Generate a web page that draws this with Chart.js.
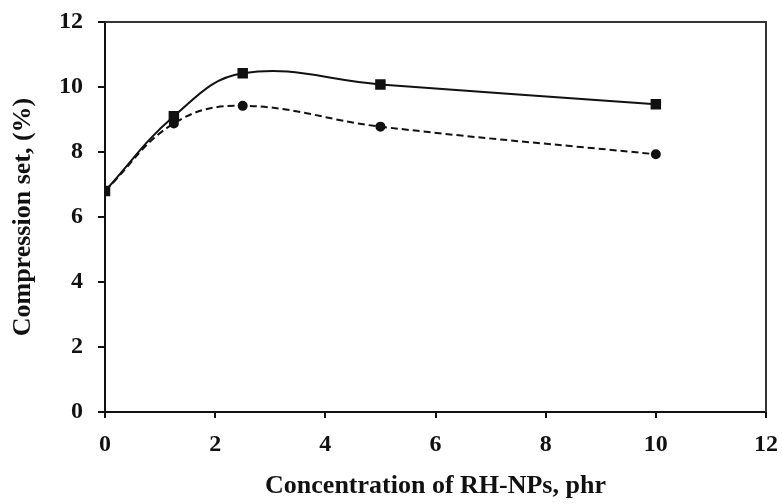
<!DOCTYPE html>
<html>
<head>
<meta charset="utf-8">
<script src="https://cdn.jsdelivr.net/npm/chart.js@4.4.0/dist/chart.umd.min.js"></script>
<style>
  html, body { margin: 0; padding: 0; background: #fff; }
  #wrap { width: 782px; height: 504px; }
</style>
</head>
<body>
<div id="wrap"><canvas id="compressionChart"></canvas></div>
<script>
// ---------------------------Data------------------------------------------------
const concentrations = [0, 1.25, 2.5, 5, 10];
const seriesSolid = [6.8, 9.1, 10.42, 10.08, 9.47];
const seriesDashed = [6.8, 8.88, 9.42, 8.78, 7.93];
const xTicks = [0, 2, 4, 6, 8, 10, 12];
const yTicks = [0, 2, 4, 6, 8, 10, 12];

const toPoints = (ys) => concentrations.map((x, i) => ({ x: x, y: ys[i] }));

// draw top and right edges of the plot box
const frameBox = {
  id: "frameBox",
  afterDraw(chart) {
    const { ctx, chartArea } = chart;
    ctx.save();
    ctx.strokeStyle = "#333";
    ctx.lineWidth = 2;
    ctx.beginPath();
    ctx.moveTo(chartArea.left, chartArea.top);
    ctx.lineTo(chartArea.right, chartArea.top);
    ctx.lineTo(chartArea.right, chartArea.bottom);
    ctx.stroke();
    ctx.restore();
  },
};

const tickFont = { family: "'Liberation Serif', 'Times New Roman', serif", size: 24, weight: "bold" };
const titleFont = { family: "'Liberation Serif', 'Times New Roman', serif", size: 26, weight: "bold" };

const ctx = document.getElementById("compressionChart").getContext("2d");
new Chart(ctx, {
  type: "scatter",
  data: {
    datasets: [
      {
        data: toPoints(seriesDashed),
        showLine: true,
        borderColor: "#111",
        backgroundColor: "#111",
        borderWidth: 2,
        borderDash: [7, 4],
        tension: 0.4,
        pointStyle: "circle",
        pointRadius: 4,
      },
      {
        data: toPoints(seriesSolid),
        showLine: true,
        borderColor: "#111",
        backgroundColor: "#111",
        borderWidth: 2,
        tension: 0.4,
        pointStyle: "rect",
        pointRadius: 6,
      },
    ],
  },
  options: {
    responsive: true,
    maintainAspectRatio: false,
    animation: false,
    layout: { padding: { top: 22, right: 16, left: 0, bottom: 0 } },
    plugins: { legend: { display: false }, tooltip: { enabled: false } },
    scales: {
      x: {
        type: "linear",
        min: 0,
        max: 12,
        afterBuildTicks: (scale) => { scale.ticks = xTicks.map((v) => ({ value: v })); },
        afterFit: (scale) => {
          scale.height = 92;
          scale.paddingLeft = 0;
          scale.paddingRight = 0;
        },
        border: { display: true, color: "#111", width: 2 },
        grid: { drawOnChartArea: false, color: "#111", lineWidth: 2, tickLength: 6 },
        ticks: { color: "#111", font: tickFont, padding: 12, maxRotation: 0 },
        title: {
          display: true,
          text: "Concentration of RH-NPs, phr",
          color: "#111",
          font: titleFont,
          padding: { top: 4, bottom: 2 },
        },
      },
      y: {
        type: "linear",
        min: 0,
        max: 12,
        afterBuildTicks: (scale) => { scale.ticks = yTicks.map((v) => ({ value: v })); },
        afterFit: (scale) => {
          scale.width = 105;
          scale.paddingTop = 0;
          scale.paddingBottom = 0;
        },
        border: { display: true, color: "#111", width: 2 },
        grid: { drawOnChartArea: false, color: "#111", lineWidth: 2, tickLength: 7 },
        ticks: { color: "#111", font: tickFont, padding: 15 },
        title: {
          display: true,
          text: "Compression set, (%)",
          color: "#111",
          font: titleFont,
          padding: { top: 8, bottom: 4 },
        },
      },
    },
  },
  plugins: [frameBox],
});
</script>
</body>
</html>
